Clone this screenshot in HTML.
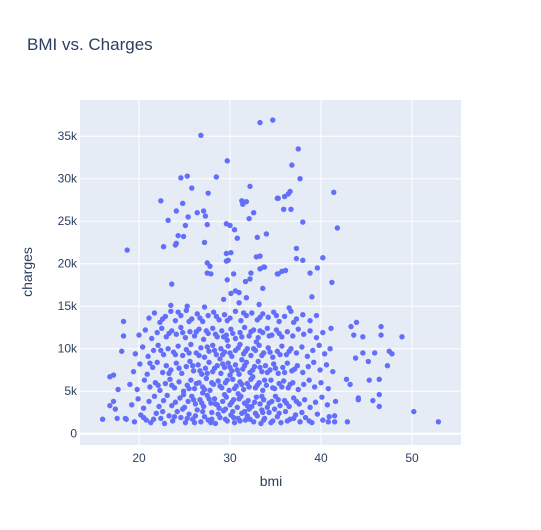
<!DOCTYPE html>
<html><head><meta charset="utf-8"><style>
body{margin:0;background:#fff;font-family:"Liberation Sans",sans-serif;}
svg text{font-family:"Liberation Sans",sans-serif;fill:#2a3f5f;}
</style></head><body>
<svg id="chart" width="541" height="525" xmlns="http://www.w3.org/2000/svg">
<rect width="541" height="525" fill="#fff"/>
<text x="27" y="50" font-size="17">BMI vs. Charges</text>
<rect x="80" y="100" width="381" height="345" fill="#e5ecf6"/>
<g id="grid"></g><g id="ticks"></g><g id="marks"></g>
<text x="271" y="486" font-size="14" text-anchor="middle">bmi</text>
<text transform="translate(32,272) rotate(-90)" font-size="14" text-anchor="middle">charges</text>
</svg>
<script>
const xTicks = [20,30,40,50];
const yTicks = [0,5000,10000,15000,20000,25000,30000,35000];
const yTickLabels = ["0","5k","10k","15k","20k","25k","30k","35k"];
const pointsHigh = [[33.3,36.6],[34.7,36.9],[26.8,35.1],[29.7,32.1],[24.6,30.1],[25.3,30.3],[28.5,30.2],[25.8,28.9],[27.6,28.3],[32.2,29.1],[22.4,27.4],[24.8,27.1],[31.3,27.4],[31.4,27.0],[31.8,27.3],[35.2,27.7],[24.1,26.2],[27.1,26.2],[27.3,25.6],[26.4,26.0],[25.4,25.5],[32.6,26.0],[32.1,25.3],[23.2,25.1],[25.1,24.5],[27.5,24.6],[29.6,24.7],[30.0,24.5],[30.5,24.0],[30.8,23.0],[33.0,23.1],[34.0,23.5],[24.3,23.3],[24.9,23.2],[24.1,22.4],[24.0,22.2],[22.7,22.0],[18.7,21.6],[27.2,22.5],[29.6,21.2],[30.1,21.3],[29.6,20.3],[29.8,20.4],[32.9,20.8],[33.3,20.9],[27.5,20.1],[27.8,19.7],[33.3,19.4],[33.8,19.6],[35.2,18.8],[27.5,18.9],[27.9,18.8],[30.4,18.8],[32.3,18.9],[23.6,17.6],[29.7,18.1],[31.7,17.9],[32.2,18.2],[33.6,17.1],[29.3,15.8],[30.1,16.5],[30.6,16.8],[31.0,16.6],[31.8,16.0],[37.5,33.5],[36.8,31.6],[37.7,30.0],[36.6,28.5],[36.4,28.2],[36.0,27.9],[35.3,27.7],[41.4,28.4],[35.9,26.4],[36.7,26.4],[38.0,24.9],[41.8,24.2],[37.3,21.8],[37.3,20.6],[38.0,20.4],[40.2,20.7],[33.7,19.6],[35.3,18.8],[35.7,19.1],[36.1,19.2],[38.8,18.9],[39.6,19.5],[41.2,17.8],[39.0,16.1],[23.5,15.1],[25.3,15.0],[27.2,14.9],[33.2,15.2],[36.5,14.8],[31.0,15.4]];
const pointsEdge = [[16.0,1.7],[18.3,13.2],[18.3,11.5],[18.1,9.7],[16.8,6.7],[17.2,6.9],[17.7,5.2],[16.8,3.3],[17.2,3.8],[17.4,2.9],[17.6,1.8],[18.5,1.8],[43.9,13.1],[43.3,12.6],[46.6,12.6],[48.9,11.4],[46.6,11.6],[44.6,11.4],[43.6,11.6],[45.9,9.5],[44.6,9.5],[47.5,9.7],[47.8,9.4],[43.8,8.9],[45.2,8.5],[47.3,8.0],[45.3,6.3],[46.4,6.4],[42.8,6.4],[43.2,5.8],[46.4,4.6],[44.1,4.2],[44.1,4.0],[45.7,3.9],[46.4,3.2],[42.9,1.4],[50.2,2.6],[52.9,1.4],[41.5,2.1],[40.8,1.4]];
const pointsLow = [[18.6,1.7],[19.5,1.4],[20.2,2.2],[20.8,1.6],[21.3,1.3],[21.9,2.4],[22.4,1.8],[22.8,1.2],[23.3,2.1],[23.7,1.5],[24.2,2.6],[24.6,1.9],[25.1,1.3],[25.5,2.3],[25.9,1.7],[26.4,2.8],[26.8,1.4],[27.2,2.0],[27.6,1.6],[28.0,2.5],[28.4,1.2],[28.9,1.9],[29.3,2.7],[29.7,1.5],[30.1,2.2],[30.5,1.3],[30.9,1.8],[31.3,2.4],[31.7,1.6],[32.1,2.9],[32.6,1.4],[33.0,2.1],[33.4,1.2],[33.8,1.8],[34.3,2.5],[34.7,1.5],[35.2,2.0],[35.6,1.3],[36.1,2.6],[36.6,1.7],[37.2,2.2],[37.7,1.4],[38.3,1.9],[39.0,1.3],[39.6,2.3],[40.2,1.6],[40.9,2.0],[41.5,1.4],
[19.2,3.4],[19.9,4.1],[20.5,3.0],[21.1,3.8],[21.7,4.4],[22.2,3.2],[22.7,3.9],[23.1,4.5],[23.6,3.3],[24.0,3.7],[24.5,4.2],[25.0,3.1],[25.4,3.8],[25.8,4.4],[26.2,3.5],[26.7,4.0],[27.1,3.2],[27.5,4.5],[27.9,3.6],[28.3,4.1],[28.8,3.0],[29.2,3.8],[29.6,4.3],[30.0,3.4],[30.4,4.0],[30.8,3.1],[31.2,4.4],[31.6,3.6],[32.0,3.9],[32.4,3.2],[32.9,4.3],[33.3,3.5],[33.7,4.0],[34.1,3.1],[34.6,3.8],[35.0,4.4],[35.5,3.3],[36.0,3.9],[36.5,3.2],[37.0,4.2],[37.6,3.5],[38.2,4.0],[38.8,3.1],[39.4,3.7],[40.1,4.3],[40.7,3.4],[41.6,3.8],
[19.0,5.8],[19.8,5.2],[20.6,6.3],[21.2,5.5],[21.8,6.0],[22.3,5.1],[22.9,5.9],[23.4,6.4],[23.9,5.4],[24.4,6.1],[24.9,5.0],[25.3,5.7],[25.7,6.3],[26.1,5.3],[26.6,6.0],[27.0,5.5],[27.4,6.5],[27.8,5.1],[28.2,5.8],[28.7,6.2],[29.1,5.4],[29.5,6.0],[29.9,5.1],[30.3,6.4],[30.7,5.6],[31.1,6.1],[31.5,5.2],[31.9,5.9],[32.3,6.4],[32.8,5.4],[33.2,6.0],[33.6,5.1],[34.0,5.7],[34.5,6.3],[34.9,5.3],[35.4,5.9],[35.9,6.2],[36.4,5.4],[36.9,6.0],[37.5,5.2],[38.1,5.8],[38.7,6.3],[39.3,5.5],[40.0,6.0],[40.8,5.3],
[19.4,7.3],[20.1,8.2],[20.9,7.0],[21.5,7.8],[22.0,8.4],[22.6,7.2],[23.0,8.0],[23.5,7.5],[24.1,8.3],[24.7,7.1],[25.2,7.9],[25.6,8.5],[26.0,7.4],[26.5,8.1],[26.9,7.0],[27.3,7.7],[27.7,8.4],[28.1,7.3],[28.6,8.0],[29.0,7.1],[29.4,7.8],[29.8,8.3],[30.2,7.4],[30.6,8.1],[31.0,7.0],[31.4,7.6],[31.8,8.4],[32.2,7.2],[32.7,7.9],[33.1,8.5],[33.5,7.3],[33.9,8.0],[34.4,7.5],[34.8,8.2],[35.3,7.1],[35.8,7.8],[36.3,8.3],[36.8,7.4],[37.4,8.0],[38.0,7.2],[38.6,7.9],[39.2,8.4],[39.9,7.5],[40.6,8.1],[41.3,7.3],
[19.6,9.4],[20.4,10.2],[21.0,9.1],[21.6,9.8],[22.1,10.4],[22.7,9.3],[23.2,10.0],[23.8,9.6],[24.3,10.3],[24.8,9.2],[25.2,9.9],[25.7,10.5],[26.3,9.5],[26.8,10.1],[27.2,9.0],[27.7,9.7],[28.1,10.4],[28.5,9.3],[29.0,10.0],[29.4,9.6],[29.8,10.3],[30.2,9.1],[30.6,9.8],[31.1,10.5],[31.5,9.4],[31.9,10.0],[32.3,9.2],[32.8,9.8],[33.2,10.4],[33.7,9.5],[34.2,10.1],[34.7,9.0],[35.2,9.7],[35.7,10.3],[36.2,9.3],[36.7,10.0],[37.3,9.5],[37.9,10.2],[38.5,9.1],[39.1,9.8],[39.8,10.4],[40.4,9.4],[41.0,10.0],
[20.0,11.6],[20.7,12.2],[21.4,11.2],[22.0,11.9],[22.5,12.4],[23.0,11.4],[23.6,12.1],[24.1,11.7],[24.6,12.5],[25.1,11.3],[25.6,12.0],[26.1,11.5],[26.6,12.3],[27.1,11.1],[27.6,11.8],[28.1,12.4],[28.6,11.4],[29.1,12.1],[29.6,11.6],[30.1,12.3],[30.6,11.2],[31.1,11.9],[31.6,12.5],[32.1,11.5],[32.6,12.2],[33.1,11.3],[33.6,11.9],[34.1,12.4],[34.6,11.6],[35.1,12.2],[35.7,11.4],[36.3,12.0],[36.9,11.5],[37.5,12.3],[38.1,11.7],[38.8,12.1],[39.5,11.3],[40.2,11.9],[41.1,12.4],
[21.1,13.6],[21.7,14.2],[22.3,13.1],[22.9,13.8],[23.5,14.4],[24.0,13.3],[24.6,13.9],[25.2,14.5],[25.8,13.5],[26.4,14.1],[27.0,13.2],[27.6,13.9],[28.2,14.3],[28.8,13.4],[29.4,14.0],[30.0,13.6],[30.6,14.4],[31.2,13.3],[31.8,13.9],[32.4,14.2],[33.0,13.4],[33.6,14.1],[34.2,13.7],[34.8,14.3],[35.4,13.2],[36.0,13.8],[36.7,14.4],[37.3,13.5],[38.0,14.0],[38.8,13.3],[39.5,13.9],
[28.4,3.5],[29.5,2.9],[30.9,4.7],[31.6,2.6],[32.5,6.7],[30.0,6.9],[28.9,8.8],[31.3,8.7],[29.7,11.0],[32.9,10.8],[27.0,4.8],[33.5,2.8],[34.9,2.9],[26.2,2.1],[24.8,2.9],[30.4,1.9],[28.0,1.7],[32.2,1.7],[33.7,1.6]];
const pointsFill = [[20.5,1.9],[21.6,1.7],[22.6,2.6],[23.9,2.0],[25.3,1.8],[26.1,1.3],[27.0,2.6],[27.9,1.3],[28.7,2.3],[29.5,1.7],[30.3,2.6],[31.1,1.5],[31.9,2.1],[32.8,2.4],[33.6,2.5],[34.5,1.3],[35.4,2.4],[36.3,1.5],[37.0,1.8],[37.9,2.5],[38.7,1.5],[24.9,4.6],[26.0,4.0],[26.9,3.6],[27.7,4.1],[28.6,3.4],[29.4,4.6],[30.2,3.7],[31.0,4.1],[31.9,3.3],[32.7,3.7],[33.5,4.4],[34.3,3.6],[35.3,4.0],[36.2,3.6],[37.3,3.8],[22.1,5.7],[23.6,5.7],[25.5,5.3],[26.3,5.9],[27.2,5.2],[28.0,6.0],[28.9,5.6],[29.7,6.3],[30.5,5.3],[31.3,5.8],[32.1,5.5],[33.0,5.7],[33.8,6.3],[34.7,5.4],[35.7,5.5],[36.6,5.8],[21.2,8.3],[23.3,7.1],[24.4,7.7],[25.9,8.0],[26.7,7.4],[27.5,7.1],[28.3,7.7],[29.2,8.2],[30.0,7.8],[30.8,7.5],[31.6,8.0],[32.5,7.5],[33.3,7.8],[34.1,7.2],[35.0,7.7],[36.0,7.2],[37.1,7.6],[22.4,9.8],[24.0,9.3],[25.5,9.5],[26.6,9.2],[27.5,10.2],[28.3,9.8],[29.2,9.3],[30.0,9.5],[30.9,10.1],[31.7,9.7],[32.6,10.0],[33.5,9.2],[34.4,9.6],[35.5,9.3],[36.5,9.7],[23.3,11.8],[24.8,11.9],[26.3,12.0],[27.4,12.1],[28.4,11.7],[29.3,11.4],[30.3,11.8],[31.3,11.4],[32.3,12.0],[33.3,12.1],[34.3,11.5],[35.4,11.8],[22.6,13.5],[24.3,14.3],[25.5,13.2],[26.7,13.6],[28.5,13.8],[29.7,13.3],[31.5,14.2],[33.3,13.7],[35.1,13.9],[37.0,13.1]];

const NS="http://www.w3.org/2000/svg";
const xs = b => 139 + (b-20)*9.1;
const ys = k => 433.7 - k*8.5;
function mk(tag, attrs){const e=document.createElementNS(NS,tag);for(const k in attrs)e.setAttribute(k,attrs[k]);return e;}
const grid=document.getElementById('grid'), ticks=document.getElementById('ticks'), marks=document.getElementById('marks');
xTicks.forEach(t=>{
  const l=mk('line',{x1:xs(t),x2:xs(t),y1:100,y2:445,stroke:'#fff','stroke-width':1});
  
  
  grid.appendChild(l);
  const tx=mk('text',{x:xs(t),y:462,'font-size':12,'text-anchor':'middle'});
  tx.textContent=t;
  
  
  ticks.appendChild(tx);
});
yTicks.forEach((t,i)=>{
  const l=mk('line',{x1:80,x2:461,y1:ys(t/1000),y2:ys(t/1000),stroke:'#fff','stroke-width':t===0?2:1});
  
  
  grid.appendChild(l);
  const tx=mk('text',{x:77,y:ys(t/1000)+4,'font-size':12,'text-anchor':'end'});
  tx.textContent=yTickLabels[i];
  
  
  ticks.appendChild(tx);
});
[pointsLow,pointsFill,pointsEdge,pointsHigh].forEach(arr=>arr.forEach(p=>{
  const c=mk('circle',{cx:xs(p[0]),cy:ys(p[1]),r:2.7,fill:'#636efa'});
  
  
  marks.appendChild(c);
}));
</script>
</body></html>
